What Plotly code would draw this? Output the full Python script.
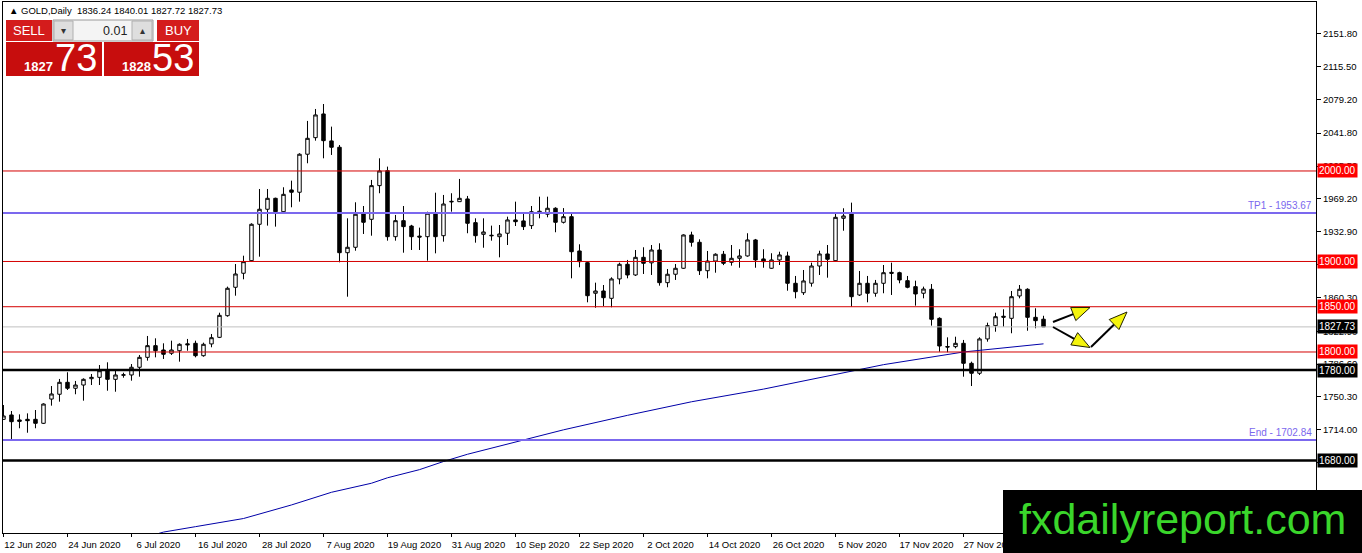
import plotly.graph_objects as go

# GOLD daily candles, one bar per weekday starting 12 Jun 2020
opens = [1725.6, 1730.4, 1724.9, 1725.6, 1725.6, 1721.2, 1748.0, 1753.3, 1766.5, 1759.9,
         1763.5, 1770.5, 1772.0, 1779.3, 1769.8, 1774.3, 1774.6, 1783.1, 1794.1, 1807.0,
         1802.2, 1798.6, 1801.4, 1809.0, 1809.6, 1795.9, 1808.9, 1816.2, 1840.1, 1871.5,
         1887.0, 1900.9, 1941.1, 1957.7, 1969.8, 1955.0, 1979.0, 1976.5, 2018.5, 2036.8,
         2063.0, 2033.2, 2026.2, 1909.7, 1915.7, 1952.5, 1946.6, 1983.8, 2000.3, 1927.4,
         1945.1, 1939.2, 1928.0, 1927.4, 1953.3, 1928.5, 1966.5, 1966.1, 1969.1, 1942.9,
         1930.0, 1929.0, 1927.4, 1931.2, 1945.9, 1944.8, 1939.6, 1953.5, 1952.2, 1958.8,
         1943.3, 1949.5, 1911.6, 1898.7, 1864.9, 1867.4, 1859.3, 1880.7, 1896.9, 1885.1,
         1904.6, 1898.5, 1912.7, 1876.6, 1885.9, 1892.5, 1929.3, 1921.2, 1889.8, 1900.5,
         1908.0, 1899.1, 1903.5, 1906.1, 1923.8, 1902.8, 1892.5, 1901.7, 1906.1, 1875.9,
         1865.5, 1876.0, 1895.0, 1908.3, 1900.9, 1947.7, 1953.3, 1863.0, 1875.9, 1864.9,
         1875.9, 1888.0, 1887.6, 1878.8, 1872.2, 1864.9, 1869.3, 1837.2, 1806.0, 1805.9,
         1809.6, 1787.5, 1776.5, 1814.4, 1829.1, 1839.5, 1837.2, 1861.9, 1869.3, 1838.3,
         1836.24]
highs = [1741.4, 1734.8, 1731.1, 1732.2, 1735.9, 1743.3, 1762.4, 1770.2, 1777.6, 1768.0,
         1770.9, 1775.7, 1785.6, 1788.6, 1779.3, 1777.1, 1786.7, 1796.7, 1817.7, 1815.1,
         1809.6, 1812.5, 1809.6, 1814.4, 1812.5, 1810.3, 1819.9, 1843.4, 1872.2, 1897.2,
         1906.4, 1942.2, 1980.1, 1980.1, 1970.5, 1982.0, 1989.3, 2019.6, 2055.3, 2068.5,
         2074.0, 2049.0, 2028.7, 1947.7, 1965.4, 1961.3, 1990.1, 2014.0, 2004.8, 1951.4,
         1961.3, 1940.5, 1937.4, 1955.0, 1976.0, 1973.5, 1975.4, 1991.2, 1972.4, 1947.7,
         1947.7, 1939.6, 1940.3, 1949.5, 1966.1, 1953.3, 1961.3, 1971.6, 1971.6, 1959.9,
         1959.0, 1953.3, 1919.0, 1899.8, 1876.6, 1874.0, 1882.5, 1898.7, 1901.7, 1912.7,
         1915.7, 1918.2, 1920.1, 1891.7, 1897.2, 1930.0, 1932.9, 1924.5, 1911.6, 1909.0,
         1911.6, 1918.2, 1913.5, 1931.2, 1924.9, 1913.5, 1909.1, 1910.8, 1910.8, 1884.0,
         1890.6, 1898.7, 1911.9, 1918.2, 1953.9, 1958.8, 1965.0, 1889.5, 1884.0, 1879.6,
         1896.1, 1898.7, 1888.7, 1884.0, 1878.8, 1872.2, 1875.1, 1838.3, 1816.2, 1816.9,
         1813.3, 1789.3, 1816.2, 1832.4, 1843.4, 1847.2, 1867.4, 1874.0, 1870.4, 1848.3,
         1840.01]
lows = [1724.9, 1703.5, 1715.7, 1710.8, 1715.7, 1720.4, 1740.7, 1745.1, 1758.0, 1753.3,
        1746.2, 1763.5, 1763.5, 1757.2, 1756.1, 1771.6, 1768.3, 1772.7, 1790.4, 1794.1,
        1792.3, 1796.7, 1789.3, 1801.4, 1794.1, 1794.8, 1805.2, 1815.4, 1839.0, 1862.2,
        1880.3, 1899.8, 1905.3, 1939.6, 1938.5, 1954.2, 1959.9, 1966.1, 2008.5, 2033.5,
        2014.0, 2017.7, 1899.1, 1861.1, 1911.9, 1930.4, 1928.5, 1975.4, 1923.0, 1923.0,
        1909.7, 1912.7, 1912.7, 1900.9, 1909.0, 1921.9, 1955.0, 1966.0, 1931.2, 1920.8,
        1915.2, 1923.0, 1904.6, 1918.2, 1939.2, 1934.8, 1935.9, 1947.7, 1948.8, 1932.3,
        1942.0, 1881.4, 1893.6, 1854.9, 1848.9, 1850.8, 1849.4, 1874.8, 1881.4, 1884.0,
        1886.2, 1885.1, 1873.3, 1871.5, 1879.6, 1891.8, 1916.4, 1885.1, 1881.4, 1887.6,
        1896.0, 1895.4, 1893.1, 1905.3, 1893.1, 1893.1, 1891.8, 1896.1, 1867.7, 1859.3,
        1863.0, 1872.2, 1885.1, 1882.1, 1899.8, 1934.0, 1850.1, 1861.9, 1854.9, 1861.1,
        1864.9, 1863.0, 1875.9, 1870.4, 1851.2, 1859.3, 1829.1, 1800.3, 1799.7, 1804.1,
        1772.7, 1762.4, 1774.6, 1811.4, 1822.4, 1827.9, 1820.7, 1859.3, 1823.5, 1826.2,
        1827.72]
closes = [1729.3, 1723.0, 1723.4, 1724.1, 1721.2, 1742.5, 1753.6, 1766.5, 1759.9, 1763.5,
          1769.8, 1772.0, 1779.3, 1769.8, 1774.6, 1774.8, 1783.1, 1794.1, 1807.0, 1801.4,
          1797.5, 1802.2, 1808.5, 1808.0, 1795.9, 1808.5, 1815.8, 1840.5, 1870.4, 1886.2,
          1899.8, 1941.1, 1957.7, 1969.8, 1955.0, 1974.2, 1976.5, 2018.5, 2036.1, 2061.9,
          2033.5, 2026.2, 1909.7, 1915.7, 1952.2, 1943.3, 1983.8, 2000.0, 1927.4, 1945.1,
          1938.5, 1927.4, 1927.0, 1953.3, 1927.4, 1963.5, 1966.0, 1969.8, 1942.2, 1928.5,
          1932.6, 1928.5, 1930.4, 1945.9, 1944.0, 1938.5, 1955.0, 1955.5, 1958.8, 1943.3,
          1949.5, 1910.8, 1899.8, 1862.2, 1867.4, 1860.0, 1880.7, 1896.9, 1885.1, 1904.6,
          1898.0, 1912.7, 1876.6, 1885.9, 1892.5, 1929.3, 1921.2, 1889.8, 1900.5, 1908.0,
          1898.0, 1903.5, 1906.1, 1923.8, 1901.7, 1899.8, 1901.7, 1907.2, 1875.9, 1866.6,
          1878.5, 1895.0, 1908.3, 1902.4, 1948.8, 1950.3, 1861.1, 1875.9, 1864.9, 1875.9,
          1887.6, 1887.0, 1879.6, 1871.5, 1864.1, 1869.6, 1836.1, 1806.6, 1805.5, 1809.6,
          1787.5, 1776.5, 1814.4, 1829.1, 1839.0, 1838.5, 1861.1, 1869.3, 1838.3, 1834.6,
          1827.73]

# moving average (blue curve), read at a few bar numbers
ma_bars = [19, 20, 24, 30, 36, 41, 46, 48, 52, 55, 58, 65, 70, 78, 86, 95, 103, 107, 110, 120, 130]
ma_values = [1598.5, 1601.0, 1607.0, 1616.0, 1631.0, 1645.0, 1655.0, 1661.0, 1670.0, 1679.0,
             1687.0, 1703.0, 1714.0, 1730.0, 1745.0, 1759.0, 1773.5, 1781.0, 1786.0, 1800.0, 1809.0]

tick_bars = list(range(0, 121, 8))
tick_dates = ["12 Jun 2020", "24 Jun 2020", "6 Jul 2020", "16 Jul 2020", "28 Jul 2020",
              "7 Aug 2020", "19 Aug 2020", "31 Aug 2020", "10 Sep 2020", "22 Sep 2020",
              "2 Oct 2020", "14 Oct 2020", "26 Oct 2020", "5 Nov 2020", "17 Nov 2020",
              "27 Nov 2020"]
price_ticks = [2151.80, 2115.50, 2079.20, 2041.80, 2005.50, 1969.20, 1932.90, 1896.60,
               1860.30, 1822.90, 1786.60, 1750.30, 1714.00, 1677.70]

red_levels = [2000.00, 1900.00, 1850.00, 1800.00]
black_levels = [1780.00, 1680.00]
target_names = ["TP1", "End"]
target_levels = [1953.67, 1702.84]
bid = 1827.73
ask = 1828.53
header_ohlc = "1836.24 1840.01 1827.72 1827.73"

W, H = 1362, 553
ML, MR, MT, MB = 3, 46, 2, 20
FONT = "Liberation Sans"


def paper(px, py):
    # window pixel -> paper coords
    return (px - ML) / (W - ML - MR), (H - MB - py) / (H - MT - MB)


def box(x0, y0, x1, y1, fill, line=None, width=0):
    a, b = paper(x0, y1)
    c, d = paper(x1, y0)
    return dict(type="rect", xref="paper", yref="paper", x0=a, y0=b, x1=c, y1=d,
                fillcolor=fill, line=dict(color=line or fill, width=width), layer="above")


def label(px, py, text, size, color="white", anchor="center", bold=False):
    x, y = paper(px, py)
    if bold:
        text = "<b>" + text + "</b>"
    return dict(xref="paper", yref="paper", x=x, y=y, text=text, showarrow=False,
                xanchor=anchor, yanchor="middle", font=dict(family=FONT, size=size, color=color))


def arrow(p0, p1, head=18, half=7):
    # black shaft plus yellow head with black outline, in window pixels
    dx, dy = p1[0] - p0[0], p1[1] - p0[1]
    n = (dx * dx + dy * dy) ** 0.5
    ux, uy = dx / n, dy / n
    bx, by = p1[0] - head * ux, p1[1] - head * uy
    c1 = (bx - half * uy, by + half * ux)
    c2 = (bx + half * uy, by - half * ux)
    a0, a1 = paper(*p0), paper(bx, by)
    shaft = dict(type="line", xref="paper", yref="paper", x0=a0[0], y0=a0[1], x1=a1[0], y1=a1[1],
                 line=dict(color="black", width=2), layer="above")
    pts = [paper(*p1), paper(*c1), paper(*c2)]
    path = "M {} {} L {} {} L {} {} Z".format(*[v for p in pts for v in p])
    tip = dict(type="path", xref="paper", yref="paper", path=path, fillcolor="#f4f40c",
               line=dict(color="#222200", width=1), layer="above")
    return [shaft, tip]


bars = list(range(len(closes)))

fig = go.Figure()
fig.add_trace(go.Candlestick(
    x=bars, open=opens, high=highs, low=lows, close=closes,
    increasing=dict(line=dict(color="black", width=1), fillcolor="white"),
    decreasing=dict(line=dict(color="black", width=1), fillcolor="black"),
    whiskerwidth=0, hoverinfo="none",
))
fig.add_trace(go.Scatter(x=ma_bars, y=ma_values, mode="lines",
                         line=dict(color="#0000a8", width=1), hoverinfo="skip"))

shapes = []
for lv in red_levels:
    shapes.append(dict(type="line", xref="paper", x0=0, x1=1, yref="y", y0=lv, y1=lv,
                       line=dict(color="#d40000", width=1), layer="above"))
for lv in target_levels:
    shapes.append(dict(type="line", xref="paper", x0=0, x1=1, yref="y", y0=lv, y1=lv,
                       line=dict(color="#7b68ee", width=2), layer="above"))
shapes.append(dict(type="line", xref="paper", x0=0, x1=1, yref="y", y0=bid, y1=bid,
                   line=dict(color="#c0c0c0", width=1), layer="above"))
for lv in black_levels:
    shapes.append(dict(type="line", xref="paper", x0=0, x1=1, yref="y", y0=lv, y1=lv,
                       line=dict(color="black", width=2.5), layer="above"))

annotations = []
# price tags on the right axis
for lv, bg in [(v, "#ff0000") for v in red_levels] + [(v, "black") for v in black_levels] + [(bid, "black")]:
    annotations.append(dict(xref="paper", x=1, xshift=1, xanchor="left", yref="y", y=lv,
                            yanchor="middle", text=f"{lv:.2f}", showarrow=False, bgcolor=bg,
                            borderpad=1, font=dict(family=FONT, size=10, color="white")))
for name, lv in zip(target_names, target_levels):
    annotations.append(dict(xref="paper", x=1, xshift=-2, xanchor="right", yref="y", y=lv,
                            yanchor="bottom", text=f"{name} - {lv:.2f}", showarrow=False,
                            font=dict(family=FONT, size=10, color="#7b68ee")))

# header line
annotations.append(label(7, 10, "▲ GOLD,Daily  " + header_ohlc, 9.5, color="black", anchor="left"))

# one-click trading panel
shapes += [
    box(6, 20, 52, 41, "#d41c1c"),
    box(53, 20, 153, 41, "#f4f4f4", "#9a9a9a", 1),
    box(54, 21, 73, 40, "#dedede", "#b0b0b0", 1),
    box(132, 21, 152, 40, "#dedede", "#b0b0b0", 1),
    box(157, 20, 199, 41, "#d41c1c"),
    box(6, 42, 102, 76, "#c70d0d"),
    box(104, 42, 199, 76, "#c70d0d"),
]
sell_txt = f"{bid:.2f}"
buy_txt = f"{ask:.2f}"
annotations += [
    label(29, 30.5, "SELL", 13),
    label(178, 30.5, "BUY", 13),
    label(63.5, 30.5, "▾", 10, color="#333333"),
    label(142, 30.5, "▴", 10, color="#333333"),
    label(129, 30.5, "0.01", 12.5, color="#222222", anchor="right"),
    label(22, 66, sell_txt[:4], 13, anchor="left", bold=True),
    label(53, 58, sell_txt[5:], 38, anchor="left"),
    label(120, 66, buy_txt[:4], 13, anchor="left", bold=True),
    label(150, 58, buy_txt[5:], 38, anchor="left"),
]

# yellow arrows drawn next to the last candles
shapes += arrow((1053, 322), (1090, 307.5))
shapes += arrow((1053, 327), (1090, 347.5))
shapes += arrow((1091, 347), (1127, 312))

# watermark
shapes.append(box(1003, 490, 1362, 553, "black"))
annotations.append(label(1182, 519, "fxdailyreport.com", 43, color="#3ad62b"))

axis_font = dict(family=FONT, size=9.5, color="black")
fig.update_layout(
    width=W, height=H,
    margin=dict(l=ML, r=MR, t=MT, b=MB),
    paper_bgcolor="white", plot_bgcolor="white",
    showlegend=False, boxgap=0.38,
    shapes=shapes, annotations=annotations,
    xaxis=dict(range=[-0.06, 164.06], rangeslider=dict(visible=False),
               showgrid=False, zeroline=False, showline=True, mirror=True,
               linecolor="black", linewidth=1, ticks="outside", ticklen=3, tickcolor="black",
               tickvals=tick_bars, ticktext=tick_dates, ticklabelshift=27, tickfont=axis_font),
    yaxis=dict(range=[1600.0, 2186.7], side="right", showgrid=False, zeroline=False,
               showline=True, mirror=True, linecolor="black", linewidth=1,
               ticks="outside", ticklen=4, tickcolor="black",
               tickvals=price_ticks, ticktext=[f"{v:.2f}" for v in price_ticks], tickfont=axis_font),
)

# page has a default 8px body margin; drop it so the figure sits at the window corner
fig.write_html("out.html", config={"displayModeBar": False},
               post_script="document.body.style.margin='0';")
